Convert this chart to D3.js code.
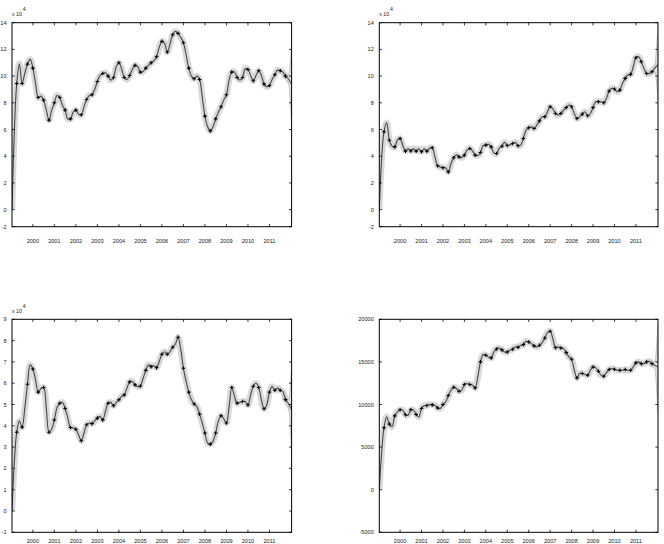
<!DOCTYPE html>
<html><head><meta charset="utf-8">
<script src="https://cdn.jsdelivr.net/npm/d3@7"></script>
<style>
body{margin:0;background:#fff}
svg{display:block}
text{font-family:"Liberation Sans",Arial,sans-serif;fill:#222}
</style>
</head><body>
<svg id="c" width="664" height="544"></svg>
<script>
// ---------- data ----------
const yearTicks = [2000,2001,2002,2003,2004,2005,2006,2007,2008,2009,2010,2011];
const xDomain = [1999.03, 2012.03];
const firstQuarter = 1999.25;   // first quarterly observation
const startValues = [0, 0, 0, 0];

// panel 1 (x 10^4)
const markers1 = [9.45,9.45,10.9, 10.6,8.4,8.2,6.7, 8.0,8.4,7.45,6.8, 7.45,7.1,8.25,8.6, 9.6,10.2,10.0,9.9,
  11.0,9.9,10.05,10.8, 10.3,10.6,11.0,11.45, 12.6,11.8,13.1,13.2, 12.5,10.6,9.8,9.75, 7.0,5.9,6.8,7.7,
  8.6,10.3,9.9,9.9, 10.5,9.65,10.4,9.4, 9.3,10.1,10.4,10.0];
const mids1 = [10.9,10.2,11.25, 9.45,8.5,7.45,7.45, 8.55,7.8,6.8,7.3, 7.15,7.7,8.55,9.0, 10.05,10.25,9.7,10.7,
  10.55,9.75,10.5,10.7, 10.35,10.8,11.15,12.15, 12.45,12.4,13.35,12.9, 11.6,10.0,10.0,8.45, 6.2,6.2,7.3,8.2,
  9.7,10.3,9.7,10.55, 10.05,10.05,10.05,9.2, 9.75,10.45,10.3,9.8];
// panel 2 (x 10^4)
const markers2 = [5.83,5.2,4.7, 5.33,4.38,4.4,4.38, 4.33,4.38,4.63,3.28, 3.13,2.83,3.88,3.95, 4.08,4.58,4.08,4.28,
  4.83,4.7,4.2,4.75, 4.8,4.95,4.78,5.33, 6.13,6.08,6.65,6.95, 7.7,7.2,7.2,7.65, 7.7,6.83,7.15,7.03,
  7.65,8.08,8.0,8.88, 9.03,8.95,9.83,10.13, 11.38,11.08,10.2,10.33];
const mids2 = [6.5,4.75,5.2, 4.8,4.55,4.55,4.55, 4.55,4.6,3.95,3.2, 3.13,3.45,4.1,3.9, 4.45,4.4,4.05,4.8,
  4.9,4.25,4.6,5.05, 4.85,5.05,4.83,5.95, 6.2,6.33,6.95,7.33, 7.55,7.08,7.45,7.83, 7.2,6.95,7.33,7.2,
  8.08,8.08,8.33,9.08, 8.83,9.45,10.08,10.7, 11.45,10.58,10.2,10.58];
// panel 3 (x 10^4)
const markers3 = [3.7,3.94,5.95, 6.67,5.58,5.8,3.7, 4.28,5.06,4.81,3.92, 3.84,3.3,4.05,4.1, 4.36,4.28,5.06,4.94,
  5.22,5.45,6.06,5.92, 5.87,6.6,6.78,6.73, 7.36,7.36,7.69,8.16, 6.7,5.58,5.02,4.55, 3.66,3.14,3.66,4.47,
  4.13,5.8,5.06,5.14, 4.98,5.86,5.8,4.8, 5.58,5.67,5.67,5.23];
const mids3 = [4.23,4.83,6.86, 6.15,5.75,4.83,3.85, 4.86,5.1,4.36,3.9, 3.58,3.66,4.13,4.23, 4.44,4.67,5.1,5.1,
  5.38,5.77,6.08,5.84, 6.23,6.86,6.83,7.02, 7.48,7.48,7.83,7.6, 6.08,5.22,4.9,4.13, 3.19,3.27,4.23,4.33,
  4.9,5.38,5.1,5.14, 5.45,6.0,5.22,4.98, 5.84,5.77,5.61,5.06];
// panel 4
const markers4 = [7270,7700,8670, 9380,8790,9380,8830, 9530,9880,9960,9600, 10000,11050,12030,11560,
  12340,12340,11950,15000, 15780,15470,16520,16410, 16170,16480,16720,17030, 17340,16880,16950,17810,
  18590,16680,16640,16090, 15310,13130,13630,13440, 14410,13910,13320,14100, 14140,14020,14100,14020,
  14880,14800,15000,14800];
const mids4 = [8550,7400,9140, 9340,8750,9340,8550, 9840,10000,9920,9530, 10300,11680,11880,11680,
  12460,12270,13240,15860, 15590,16170,16640,16170, 16370,16760,16950,17420, 17150,16760,17270,18440,
  17730,16760,16560,15590, 14020,13630,13520,14020, 14300,13440,13750,14220, 14020,14020,14020,14410,
  15000,14800,15080,14610];
const endValues = [9.4, 10.88, 4.75, 14410];
const fanTop    = [12.0, 13.6, 6.55, 19300];
const fanBottom = [6.7, 8.45, 2.9, 9200];

const yTicks1 = [-2,0,2,4,6,8,10,12,14];
const yTicks2 = [-2,0,2,4,6,8,10,12,14];
const yTicks3 = [-1,0,1,2,3,4,5,6,7,8,9];
const yTicks4 = [-5000,0,5000,10000,15000,20000];

// ---------- layout ----------
const panels = [
  {m:markers1, d:mids1, k:0, ticks:yTicks1, yDom:[-1.28,14], box:{l:12,r:291.6,t:22.7,b:226.7}, exp:true, labY:243.4, expY:22.7},
  {m:markers2, d:mids2, k:1, ticks:yTicks2, yDom:[-1.28,14], box:{l:379.3,r:658,t:22.7,b:226.7}, exp:true, labY:243.4, expY:22.7},
  {m:markers3, d:mids3, k:2, ticks:yTicks3, yDom:[-1,9], box:{l:12,r:291.6,t:319.3,b:532.3}, exp:true, labY:543.2, expY:319.3},
  {m:markers4, d:mids4, k:3, ticks:yTicks4, yDom:[-5000,20000], box:{l:379.3,r:658,t:319.3,b:532.3}, exp:false, labY:543.2, expY:319.3}
];

const svg = d3.select('#c');
const defs = svg.append('defs');

panels.forEach((p, idx) => {
  const b = p.box;
  const x = d3.scaleLinear().domain(xDomain).range([b.l, b.r]);
  const y = d3.scaleLinear().domain(p.yDom).range([b.b, b.t]).clamp(true);
  const g = svg.append('g');

  defs.append('clipPath').attr('id', 'clip' + idx)
    .append('rect').attr('x', b.l).attr('y', b.t).attr('width', b.r - b.l).attr('height', b.b - b.t);
  const plot = g.append('g').attr('clip-path', `url(#clip${idx})`);

  const q = p.m.map((v, i) => [firstQuarter + 0.25 * i, v]);
  const knots = [[xDomain[0], startValues[p.k]]];
  p.m.forEach((v, i) => {
    knots.push([firstQuarter + 0.25 * i, v]);
    knots.push([firstQuarter + 0.25 * i + 0.125, p.d[i]]);
  });
  knots.push([xDomain[1], endValues[p.k]]);

  const line = d3.line().x(d => x(d[0])).y(d => y(d[1])).curve(d3.curveCatmullRom.alpha(0.5));

  // band
  plot.append('path').attr('d', line(knots)).attr('fill', 'none')
    .attr('stroke', '#d9d9d9').attr('stroke-width', 6.5).attr('stroke-linejoin', 'round');

  // end fan (widening band)
  const nLast = p.m.length - 1;
  const tLast = firstQuarter + 0.25 * nLast;
  const fanPts = [
    [tLast - 0.1, p.m[nLast] + (p.d[nLast-1] - p.m[nLast]) * 0.3, p.m[nLast] + (p.d[nLast-1] - p.m[nLast]) * 0.3],
    [tLast, p.m[nLast], p.m[nLast]],
    [tLast + 0.125, p.d[nLast], p.d[nLast]],
    [xDomain[1], fanTop[p.k], fanBottom[p.k]]
  ];
  const area = d3.area().x(d => x(d[0])).y0(d => y(d[2]) + 3).y1(d => y(d[1]) - 3).curve(d3.curveMonotoneX);
  plot.append('path').attr('d', area(fanPts)).attr('fill', '#e2e2e2').attr('stroke', '#c2c2c2').attr('stroke-width', 1);

  // main line
  plot.append('path').attr('d', line(knots)).attr('fill', 'none')
    .attr('stroke', '#454545').attr('stroke-width', 1.1).attr('stroke-linejoin', 'round');

  // markers
  const s = 1.8;
  plot.selectAll('path.mk').data(q).join('path').attr('class', 'mk')
    .attr('d', d => `M${x(d[0]) - s},${y(d[1])}h${2 * s}M${x(d[0])},${y(d[1]) - s}v${2 * s}`)
    .attr('stroke', '#000').attr('stroke-width', 1.1).attr('fill', 'none');

  // box
  g.append('rect').attr('x', b.l).attr('y', b.t).attr('width', b.r - b.l).attr('height', b.b - b.t)
    .attr('fill', 'none').attr('stroke', '#000').attr('stroke-width', 1);

  const tl = 2.6;
  yearTicks.forEach(t => {
    const xx = x(t);
    g.append('line').attr('x1', xx).attr('x2', xx).attr('y1', b.b).attr('y2', b.b - tl).attr('stroke', '#000').attr('stroke-width', 0.8);
    g.append('line').attr('x1', xx).attr('x2', xx).attr('y1', b.t).attr('y2', b.t + tl).attr('stroke', '#000').attr('stroke-width', 0.8);
    g.append('text').attr('x', xx).attr('y', p.labY).attr('text-anchor', 'middle').attr('font-size', 5.6).text(t);
  });
  p.ticks.forEach(v => {
    const yy = y(v);
    g.append('line').attr('x1', b.l).attr('x2', b.l + tl).attr('y1', yy).attr('y2', yy).attr('stroke', '#000').attr('stroke-width', 0.8);
    g.append('line').attr('x1', b.r).attr('x2', b.r - tl).attr('y1', yy).attr('y2', yy).attr('stroke', '#000').attr('stroke-width', 0.8);
    g.append('text').attr('x', b.l - 5.5).attr('y', yy + 2).attr('text-anchor', 'end').attr('font-size', 5.6).text(String(v));
  });

  if (p.exp) {
    const t = g.append('text').attr('x', b.l).attr('y', p.expY - 6.5).attr('font-size', 5.2);
    t.append('tspan').text('x 10');
    t.append('tspan').attr('dy', -5).attr('dx', 1).attr('font-size', 5.2).text('4');
  }
});
</script>
</body></html>
